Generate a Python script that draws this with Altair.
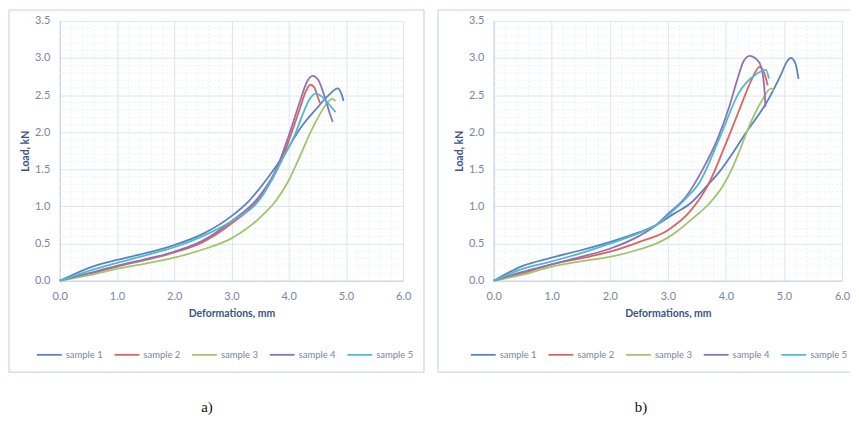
import altair as alt
import pandas as pd

names = ["sample 1", "sample 2", "sample 3", "sample 4", "sample 5"]
colors = ["#5a82c4", "#e0625c", "#a2c46a", "#9170b6", "#4bbad2"]

# ---- panel a) ----
a1_x = [0, 0.2, 0.5, 1.0, 1.5, 2.0, 2.5, 3.0, 3.3, 3.6, 3.85, 4.0, 4.2, 4.5, 4.7, 4.86, 4.92, 4.96]
a1_y = [0, 0.07, 0.17, 0.28, 0.37, 0.48, 0.63, 0.87, 1.07, 1.35, 1.62, 1.8, 2.05, 2.33, 2.5, 2.59, 2.52, 2.42]
a2_x = [0, 0.5, 1.0, 1.5, 2.0, 2.5, 3.0, 3.5, 3.8, 4.0, 4.2, 4.3, 4.38, 4.45, 4.52, 4.55]
a2_y = [0, 0.09, 0.19, 0.28, 0.38, 0.52, 0.77, 1.12, 1.5, 1.88, 2.33, 2.55, 2.64, 2.6, 2.45, 2.39]
a3_x = [0, 0.5, 1.0, 1.5, 2.0, 2.5, 3.0, 3.5, 3.8, 4.0, 4.2, 4.3, 4.5, 4.65, 4.76, 4.82]
a3_y = [0, 0.07, 0.16, 0.23, 0.31, 0.42, 0.57, 0.85, 1.1, 1.35, 1.68, 1.86, 2.18, 2.37, 2.45, 2.42]
a4_x = [0, 0.5, 1.0, 1.5, 2.0, 2.5, 3.0, 3.5, 3.8, 4.0, 4.2, 4.32, 4.42, 4.52, 4.62, 4.72, 4.77]
a4_y = [0, 0.1, 0.2, 0.29, 0.39, 0.54, 0.8, 1.15, 1.53, 1.95, 2.42, 2.68, 2.76, 2.7, 2.5, 2.25, 2.14]
a5_x = [0, 0.5, 1.0, 1.5, 2.0, 2.5, 3.0, 3.5, 3.9, 4.1, 4.25, 4.37, 4.47, 4.58, 4.7, 4.82]
a5_y = [0, 0.13, 0.24, 0.34, 0.45, 0.6, 0.8, 1.1, 1.65, 1.95, 2.25, 2.45, 2.52, 2.48, 2.38, 2.27]

# ---- panel b) ----
b1_x = [0, 0.5, 1.0, 1.5, 2.0, 2.5, 2.8, 3.1, 3.4, 3.7, 3.9, 4.1, 4.35, 4.7, 4.95, 5.05, 5.12, 5.2, 5.25]
b1_y = [0, 0.2, 0.31, 0.41, 0.52, 0.65, 0.75, 0.9, 1.05, 1.3, 1.48, 1.7, 2.0, 2.4, 2.78, 2.95, 3.0, 2.92, 2.72]
b2_x = [0, 0.5, 1.0, 1.5, 2.0, 2.5, 3.0, 3.4, 3.7, 4.0, 4.23, 4.45, 4.58, 4.66, 4.72]
b2_y = [0, 0.1, 0.22, 0.3, 0.39, 0.52, 0.68, 0.95, 1.3, 1.85, 2.3, 2.72, 2.88, 2.8, 2.63]
b3_x = [0, 0.5, 1.0, 1.5, 2.0, 2.5, 2.8, 3.0, 3.2, 3.4, 3.7, 3.95, 4.1, 4.23, 4.41, 4.6, 4.78, 4.82]
b3_y = [0, 0.08, 0.19, 0.26, 0.32, 0.42, 0.5, 0.58, 0.69, 0.82, 1.03, 1.28, 1.5, 1.74, 2.1, 2.4, 2.59, 2.56]
b4_x = [0, 0.5, 1.0, 1.5, 2.0, 2.5, 2.8, 3.0, 3.3, 3.6, 3.85, 4.06, 4.2, 4.3, 4.41, 4.5, 4.58, 4.64, 4.67, 4.68]
b4_y = [0, 0.12, 0.22, 0.32, 0.43, 0.6, 0.75, 0.9, 1.12, 1.5, 1.9, 2.35, 2.72, 2.95, 3.03, 3.0, 2.93, 2.75, 2.5, 2.34]
b5_x = [0, 0.5, 1.0, 1.5, 2.0, 2.5, 2.8, 3.1, 3.3, 3.55, 3.89, 4.23, 4.5, 4.69, 4.74]
b5_y = [0, 0.16, 0.26, 0.37, 0.5, 0.64, 0.75, 0.95, 1.1, 1.33, 1.92, 2.54, 2.77, 2.84, 2.72]

x_ticks = [0, 1, 2, 3, 4, 5, 6]
y_ticks = [0, 0.5, 1.0, 1.5, 2.0, 2.5, 3.0, 3.5]
x_minor = [0.2, 0.4, 0.6, 0.8, 1.2, 1.4, 1.6, 1.8, 2.2, 2.4, 2.6, 2.8, 3.2, 3.4, 3.6, 3.8,
           4.2, 4.4, 4.6, 4.8, 5.2, 5.4, 5.6, 5.8]
y_minor = [0.1, 0.2, 0.3, 0.4, 0.6, 0.7, 0.8, 0.9, 1.1, 1.2, 1.3, 1.4, 1.6, 1.7, 1.8, 1.9,
           2.1, 2.2, 2.3, 2.4, 2.6, 2.7, 2.8, 2.9, 3.1, 3.2, 3.3, 3.4]


def build(series):
    rows = []
    for name, xs, ys in series:
        for i, (xv, yv) in enumerate(zip(xs, ys)):
            rows.append({"series": name, "x": xv, "y": yv, "i": i})
    return pd.DataFrame(rows)


df_a = build([(names[0], a1_x, a1_y), (names[1], a2_x, a2_y), (names[2], a3_x, a3_y),
              (names[3], a4_x, a4_y), (names[4], a5_x, a5_y)])
df_b = build([(names[0], b1_x, b1_y), (names[1], b2_x, b2_y), (names[2], b3_x, b3_y),
              (names[3], b4_x, b4_y), (names[4], b5_x, b5_y)])

FONT = "Lato"
LABEL_C = "#7a869e"
TITLE_C = "#3a5487"
GRID_C = "#dbe5f1"
MINOR_C = "#edf1f7"
DOMAIN_C = "#bfd0e6"
BORDER_C = "#d3dfee"

xscale = alt.Scale(domain=[0, 6], nice=False, zero=False)
yscale = alt.Scale(domain=[0, 3.5], nice=False, zero=False)
dummy = pd.DataFrame({"k": [0]})
df_xminor = pd.DataFrame({"x": x_minor})
df_yminor = pd.DataFrame({"y": y_minor})

x_axis = alt.Axis(orient="bottom", values=x_ticks, format=".1f", title="Deformations, mm",
                  grid=True, gridColor=GRID_C, domainColor=DOMAIN_C, ticks=False,
                  labelPadding=10, titlePadding=7, labelFont=FONT, labelFontSize=11,
                  labelColor=LABEL_C, titleFont=FONT, titleFontSize=10.5,
                  titleFontWeight="bold", titleColor=TITLE_C, labelFlush=False)
y_axis = alt.Axis(orient="left", values=y_ticks, format=".1f", title="Load, kN",
                  grid=True, gridColor=GRID_C, domainColor=DOMAIN_C, ticks=False,
                  labelPadding=10, titlePadding=4, labelFont=FONT, labelFontSize=11,
                  labelColor=LABEL_C, titleFont=FONT, titleFontSize=10.5,
                  titleFontWeight="bold", titleColor=TITLE_C, labelFlush=False)


def panel(df, w, h, label, box_left, box_right, right_edge):
    lines = alt.Chart(df).mark_line(strokeWidth=1.8, interpolate="monotone").encode(
        x=alt.X("x:Q", scale=xscale, axis=x_axis),
        y=alt.Y("y:Q", scale=yscale, axis=y_axis),
        color=alt.Color("series:N", scale=alt.Scale(domain=names, range=colors),
                        legend=alt.Legend(title=None, orient="none", legendX=-24, legendY=322,
                                          direction="horizontal", columns=5, symbolType="stroke",
                                          symbolSize=625, symbolStrokeWidth=1.8, labelFont=FONT,
                                          labelFontSize=9.5, labelColor=LABEL_C, columnPadding=7,
                                          labelOffset=3)),
        order="i:Q",
    )
    minor_v = alt.Chart(df_xminor).mark_rule(color=MINOR_C, strokeDash=[2, 2], strokeWidth=1).encode(
        x=alt.X("x:Q", scale=xscale, axis=x_axis))
    minor_h = alt.Chart(df_yminor).mark_rule(color=MINOR_C, strokeDash=[2, 2], strokeWidth=1).encode(
        y=alt.Y("y:Q", scale=yscale, axis=y_axis))
    top = -11
    bottom = 353
    rules = []
    rules.append(alt.Chart(dummy).mark_rule(color=BORDER_C, strokeWidth=1.5).encode(
        x=alt.value(box_left), x2=alt.value(box_right), y=alt.value(top)))
    rules.append(alt.Chart(dummy).mark_rule(color=BORDER_C, strokeWidth=1.5).encode(
        x=alt.value(box_left), x2=alt.value(box_right), y=alt.value(bottom)))
    rules.append(alt.Chart(dummy).mark_rule(color=BORDER_C, strokeWidth=1.5).encode(
        x=alt.value(box_left), y=alt.value(top), y2=alt.value(bottom)))
    if right_edge:
        rules.append(alt.Chart(dummy).mark_rule(color=BORDER_C, strokeWidth=1.5).encode(
            x=alt.value(box_right), y=alt.value(top), y2=alt.value(bottom)))
    txt = alt.Chart(dummy).mark_text(font="Liberation Serif", fontSize=15, color="#111111",
                                     baseline="middle", align="center").encode(
        x=alt.value(148), y=alt.value(388), text=alt.value(label))
    return alt.layer(minor_v, minor_h, lines, *rules, txt).properties(width=w, height=h)


left = panel(df_a, 345, 261, "a)", -51, 366, True)
right = panel(df_b, 350, 261, "b)", -56, 358, False)

chart = alt.hconcat(left, right, spacing=12).resolve_scale(color="independent").properties(
    padding=0, background="white"
).configure_view(strokeOpacity=0)

chart.save("out.html", embed_options={"renderer": "svg", "actions": False})
